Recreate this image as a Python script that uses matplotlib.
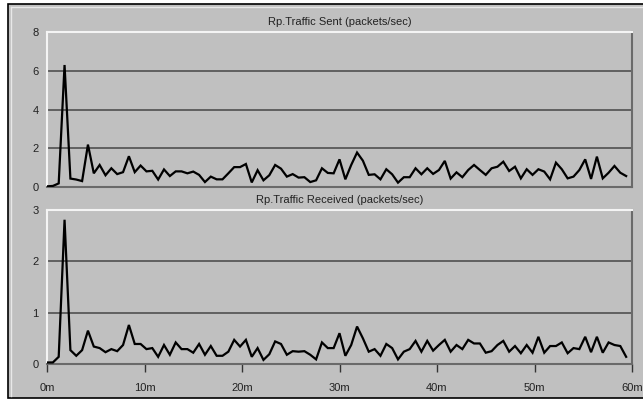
import numpy as np
import matplotlib
matplotlib.use('Agg')
import matplotlib.pyplot as plt
from matplotlib.patches import Rectangle
from matplotlib.lines import Line2D

plt.rcParams['font.family'] = ['Liberation Sans', 'DejaVu Sans']

# packets/sec, one sample every 36 s
sent = [0.05, 0.07, 0.2, 6.3, 0.45, 0.4, 0.32, 2.2, 0.72, 1.15,
        0.62, 0.98, 0.68, 0.78, 1.6, 0.78, 1.12, 0.82, 0.85, 0.4,
        0.92, 0.58, 0.82, 0.82, 0.72, 0.81, 0.64, 0.27, 0.55, 0.41,
        0.41, 0.72, 1.04, 1.04, 1.2, 0.25, 0.88, 0.36, 0.62, 1.15,
        0.96, 0.55, 0.68, 0.5, 0.52, 0.27, 0.36, 0.98, 0.74, 0.72,
        1.44, 0.41, 1.15, 1.79, 1.37, 0.64, 0.67, 0.41, 0.93, 0.67,
        0.24, 0.52, 0.52, 0.98, 0.67, 0.98, 0.69, 0.89, 1.36, 0.45,
        0.77, 0.52, 0.89, 1.15, 0.89, 0.64, 0.98, 1.06, 1.32, 0.84,
        1.06, 0.46, 0.93, 0.64, 0.93, 0.81, 0.41, 1.27, 0.93, 0.46,
        0.55, 0.89, 1.44, 0.43, 1.58, 0.46, 0.75, 1.1, 0.75, 0.58]
received = [0.03, 0.03, 0.14, 2.81, 0.27, 0.16, 0.27, 0.65, 0.34, 0.31,
            0.23, 0.29, 0.25, 0.37, 0.76, 0.39, 0.39, 0.29, 0.31, 0.14,
            0.37, 0.18, 0.42, 0.29, 0.29, 0.22, 0.39, 0.18, 0.35, 0.16,
            0.16, 0.24, 0.47, 0.34, 0.47, 0.14, 0.31, 0.08, 0.19, 0.44,
            0.39, 0.18, 0.25, 0.24, 0.25, 0.18, 0.09, 0.42, 0.31, 0.31,
            0.6, 0.16, 0.37, 0.73, 0.5, 0.24, 0.29, 0.16, 0.39, 0.31,
            0.09, 0.24, 0.29, 0.45, 0.24, 0.45, 0.26, 0.37, 0.47, 0.24,
            0.37, 0.29, 0.47, 0.4, 0.4, 0.22, 0.25, 0.37, 0.45, 0.24,
            0.35, 0.21, 0.37, 0.22, 0.53, 0.22, 0.35, 0.35, 0.42, 0.21,
            0.31, 0.29, 0.53, 0.23, 0.53, 0.22, 0.42, 0.37, 0.35, 0.14]
minutes = np.arange(len(sent)) * 0.6

titles = ['Rp.Traffic Sent (packets/sec)', 'Rp.Traffic Received (packets/sec)']
yticks = [[0, 2, 4, 6, 8], [0, 1, 2, 3]]
xticks = [0, 10, 20, 30, 40, 50, 60]
xlabels = ['0m', '10m', '20m', '30m', '40m', '50m', '60m']

bg = '#c0c0c0'
W, H = 643, 400
fig = plt.figure(figsize=(W / 100, H / 100), dpi=100)
fig.patch.set_facecolor('white')

# outer panel: black border left/top/bottom, runs off the right edge
fig.patches.append(Rectangle((8 / W, 2 / H), (W + 10) / W, (H - 6) / H,
                             transform=fig.transFigure, facecolor=bg,
                             edgecolor='black', linewidth=1.2, zorder=-2))
fig.lines.append(Line2D([11 / W, 11 / W], [4 / H, 1 - 7 / H], transform=fig.transFigure,
                        color='#e8e8e8', linewidth=1))
fig.lines.append(Line2D([11 / W, 1], [1 - 7 / H, 1 - 7 / H], transform=fig.transFigure,
                        color='#e8e8e8', linewidth=1))

left = 47 / W
width = 585 / W
boxes = [(left, 1 - 187.3 / H, width, 155.3 / H),
         (left, 1 - 364 / H, width, 154 / H)]

for k, (data, box) in enumerate(zip([sent, received], boxes)):
    ax = fig.add_axes(box)
    ax.set_facecolor(bg)
    ax.plot(minutes, data, color='black', linewidth=1.6, solid_joinstyle='miter', zorder=3)
    ax.set_xlim(0, 60)
    ax.set_ylim(0, yticks[k][-1])
    ax.set_yticks(yticks[k])
    ax.tick_params(axis='y', length=0, pad=6, labelsize=8, labelcolor='#222222')
    for v in yticks[k][1:-1]:
        ax.axhline(v, color='#505050', linewidth=1.2, zorder=1)
    ax.spines['top'].set_color('#f4f4f4')
    ax.spines['left'].set_color('#f4f4f4')
    ax.spines['right'].set_color('#6a6a6a')
    ax.spines['bottom'].set_color('#6a6a6a')
    for s in ax.spines.values():
        s.set_linewidth(1.5)
    ax.set_title(titles[k], fontsize=8, color='#222222', pad=5)
    if k == 0:
        ax.set_xticks([])
    else:
        ax.set_xticks(xticks)
        ax.set_xticklabels(xlabels)
        ax.tick_params(axis='x', length=6, width=1, color='#333333', pad=8,
                       labelsize=8, labelcolor='#222222')

fig.savefig('out.png', dpi=100, facecolor=fig.get_facecolor())
